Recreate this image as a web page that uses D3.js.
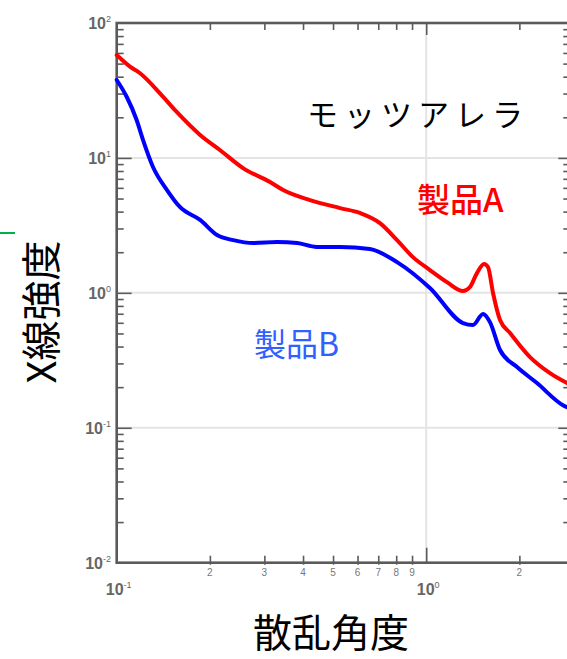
<!DOCTYPE html>
<html>
<head>
<meta charset="utf-8">
<script src="https://cdn.jsdelivr.net/npm/d3@7"></script>
<style>
  body { margin: 0; background: #fff; }
  svg { display: block; }
</style>
</head>
<body>
<script>
// Scattering angle (x) and X-ray intensity (y) for the two products
const angleA = [0.100, 0.1104, 0.119, 0.138, 0.156, 0.186, 0.216, 0.256, 0.313, 0.345, 0.421, 0.527,
                0.611, 0.709, 0.805, 0.906, 1.028, 1.167, 1.315, 1.385, 1.459, 1.537, 1.584, 1.644,
                1.732, 1.866, 2.165, 2.512, 2.851];
const intensityA = [57.9, 47.5, 42.4, 30.1, 22.0, 14.8, 11.4, 8.41, 6.63, 5.78, 4.87, 4.25,
                    3.91, 3.29, 2.46, 1.84, 1.476, 1.20, 1.03, 1.104, 1.40, 1.635, 1.553, 0.997,
                    0.629, 0.504, 0.334, 0.254, 0.2145];

const angleB = [0.100, 0.1077, 0.116, 0.1216, 0.131, 0.1454, 0.160, 0.186, 0.211, 0.238, 0.276, 0.330,
                0.383, 0.443, 0.527, 0.657, 0.805, 1.028, 1.315, 1.416, 1.526, 1.607, 1.732, 1.966,
                2.28, 2.767, 2.851];
const intensityB = [37.8, 28.4, 19.1, 13.6, 8.56, 5.78, 4.33, 3.47, 2.68, 2.46, 2.34, 2.38,
                    2.34, 2.19, 2.19, 2.11, 1.69, 1.085, 0.597, 0.577, 0.697, 0.607, 0.377, 0.282,
                    0.2145, 0.147, 0.142];

// Axis ticks and labels
const yDecades = [0.01, 0.1, 1, 10, 100];
const yExponents = ["-2", "-1", "0", "1", "2"];
const xDecades = [0.1, 1];
const xExponents = ["-1", "0"];
const xMinorTicks = [0.2, 0.3, 0.4, 0.5, 0.6, 0.7, 0.8, 0.9, 2];
const xMinorLabels = ["2", "3", "4", "5", "6", "7", "8", "9", "2"];

const seriesNames = ["製品A", "製品B"];
const seriesColors = ["#ff0000", "#0000ff"];
const titleText = "モッツアレラ";
const xTitle = "散乱角度";
const yTitle = "X線強度";

const W = 567, H = 659;
const plotLeft = 116.7, plotTop = 23, plotBottom = 562.7;
const decadeX = 309.5;
const xMax = 2.9;
const plotRight = plotLeft + decadeX * Math.log10(xMax / 0.1);

const svg = d3.select("body").append("svg").attr("width", W).attr("height", H);

const x = d3.scaleLog().domain([0.1, xMax]).range([plotLeft, plotRight]);
const y = d3.scaleLog().domain([0.01, 100]).range([plotBottom, plotTop]);

const axisColor = "#5a5a5a";
const gridColor = "#e4e4e4";

// Decade grid lines
svg.append("g").selectAll("line").data(yDecades.slice(1, 4)).join("line")
  .attr("x1", plotLeft).attr("x2", plotRight)
  .attr("y1", d => y(d)).attr("y2", d => y(d))
  .attr("stroke", gridColor).attr("stroke-width", 2);
svg.append("g").selectAll("line").data([1]).join("line")
  .attr("x1", d => x(d)).attr("x2", d => x(d))
  .attr("y1", plotTop).attr("y2", plotBottom)
  .attr("stroke", gridColor).attr("stroke-width", 2);

// Minor/major tick values
const yMinor = [];
for (let e = -2; e < 2; e++) for (let m = 2; m <= 9; m++) yMinor.push(m * Math.pow(10, e));
const xMinorAll = [];
for (let e = -1; e < 1; e++) for (let m = 2; m <= 9; m++) {
  const v = m * Math.pow(10, e);
  if (v <= xMax) xMinorAll.push(v);
}

function styleAxis(g) {
  g.select(".domain").remove();
  g.selectAll(".tick line").attr("stroke", axisColor).attr("stroke-width", 1.6);
  g.selectAll(".tick text").remove();
}

// Left axis ticks (inward)
svg.append("g").attr("transform", `translate(${plotLeft},0)`)
  .call(d3.axisLeft(y).tickValues(yMinor).tickSize(-7)).call(styleAxis);
svg.append("g").attr("transform", `translate(${plotLeft},0)`)
  .call(d3.axisLeft(y).tickValues(yDecades.slice(1, 4)).tickSize(-15)).call(styleAxis);
// Right axis ticks (inward)
svg.append("g").attr("transform", `translate(${plotRight},0)`)
  .call(d3.axisRight(y).tickValues(yMinor).tickSize(-6)).call(styleAxis);
svg.append("g").attr("transform", `translate(${plotRight},0)`)
  .call(d3.axisRight(y).tickValues(yDecades.slice(1, 4)).tickSize(-11)).call(styleAxis);
// Bottom axis ticks
svg.append("g").attr("transform", `translate(0,${plotBottom + 2})`)
  .call(d3.axisBottom(x).tickValues(xMinorAll).tickSize(-9)).call(styleAxis);
svg.append("g").attr("transform", `translate(0,${plotBottom})`)
  .call(d3.axisBottom(x).tickValues([1]).tickSize(-15)).call(styleAxis);
// Top axis ticks
svg.append("g").attr("transform", `translate(0,${plotTop})`)
  .call(d3.axisTop(x).tickValues(xMinorAll).tickSize(-7)).call(styleAxis);
svg.append("g").attr("transform", `translate(0,${plotTop})`)
  .call(d3.axisTop(x).tickValues([1]).tickSize(-12)).call(styleAxis);

// Frame
svg.append("rect")
  .attr("x", plotLeft).attr("y", plotTop)
  .attr("width", plotRight - plotLeft).attr("height", plotBottom - plotTop)
  .attr("fill", "none").attr("stroke", axisColor).attr("stroke-width", 2.6);

// Y decade labels
const tickFont = "'Liberation Sans', Arial, sans-serif";
const labels = svg.append("g").attr("font-family", tickFont).attr("fill", "#666")
  .attr("font-weight", "bold");
yDecades.forEach((d, i) => {
  const t = labels.append("text").attr("x", 111).attr("y", y(d) + 6)
    .attr("text-anchor", "end").attr("font-size", 16);
  t.append("tspan").text("10");
  t.append("tspan").attr("dy", -7).attr("font-size", 9).attr("font-weight", "normal")
    .text(yExponents[i]);
});

// X decade labels
xDecades.forEach((d, i) => {
  const t = labels.append("text").attr("x", x(d) + 2).attr("y", 595)
    .attr("text-anchor", "middle").attr("font-size", 16);
  t.append("tspan").text("10");
  t.append("tspan").attr("dy", -7).attr("font-size", 9).attr("font-weight", "normal")
    .text(xExponents[i]);
});

// X minor labels
svg.append("g").attr("font-family", tickFont).attr("fill", "#777").attr("font-size", 10)
  .selectAll("text").data(xMinorTicks).join("text")
  .attr("x", d => x(d)).attr("y", 576).attr("text-anchor", "middle")
  .text((d, i) => xMinorLabels[i]);

// Curves
const line = d3.line().x(d => x(d[0])).y(d => y(d[1])).curve(d3.curveMonotoneX);
const dataA = angleA.map((a, i) => [a, intensityA[i]]);
const dataB = angleB.map((a, i) => [a, intensityB[i]]);
svg.append("path").datum(dataA).attr("d", line)
  .attr("fill", "none").attr("stroke", seriesColors[0]).attr("stroke-width", 4)
  .attr("stroke-linejoin", "round").attr("stroke-linecap", "round");
svg.append("path").datum(dataB).attr("d", line)
  .attr("fill", "none").attr("stroke", seriesColors[1]).attr("stroke-width", 4)
  .attr("stroke-linejoin", "round").attr("stroke-linecap", "round");

// Titles and series labels
const jp = "'Noto Sans CJK JP', sans-serif";
svg.append("text").attr("x", 307).attr("y", 126)
  .attr("font-family", jp).attr("font-size", 31).attr("letter-spacing", 6)
  .attr("fill", "#000").text(titleText);
svg.append("text").attr("x", 417).attr("y", 212)
  .attr("font-family", jp).attr("font-size", 33).attr("font-weight", 500)
  .attr("fill", seriesColors[0]).text(seriesNames[0]);
svg.append("text").attr("x", 254).attr("y", 356)
  .attr("font-family", jp).attr("font-size", 32)
  .attr("fill", "#3060ff").text(seriesNames[1]);

svg.append("text").attr("x", 331).attr("y", 647)
  .attr("font-family", jp).attr("font-size", 39).attr("text-anchor", "middle")
  .attr("fill", "#000").text(xTitle);
svg.append("text").attr("transform", "translate(56,312) rotate(-90)")
  .attr("font-family", jp).attr("font-size", 40).attr("text-anchor", "middle")
  .attr("fill", "#000").text(yTitle);

// Small green marker at the left edge
svg.append("line").attr("x1", 0).attr("x2", 15).attr("y1", 233).attr("y2", 233)
  .attr("stroke", "#00b050").attr("stroke-width", 2);
</script>
</body>
</html>
